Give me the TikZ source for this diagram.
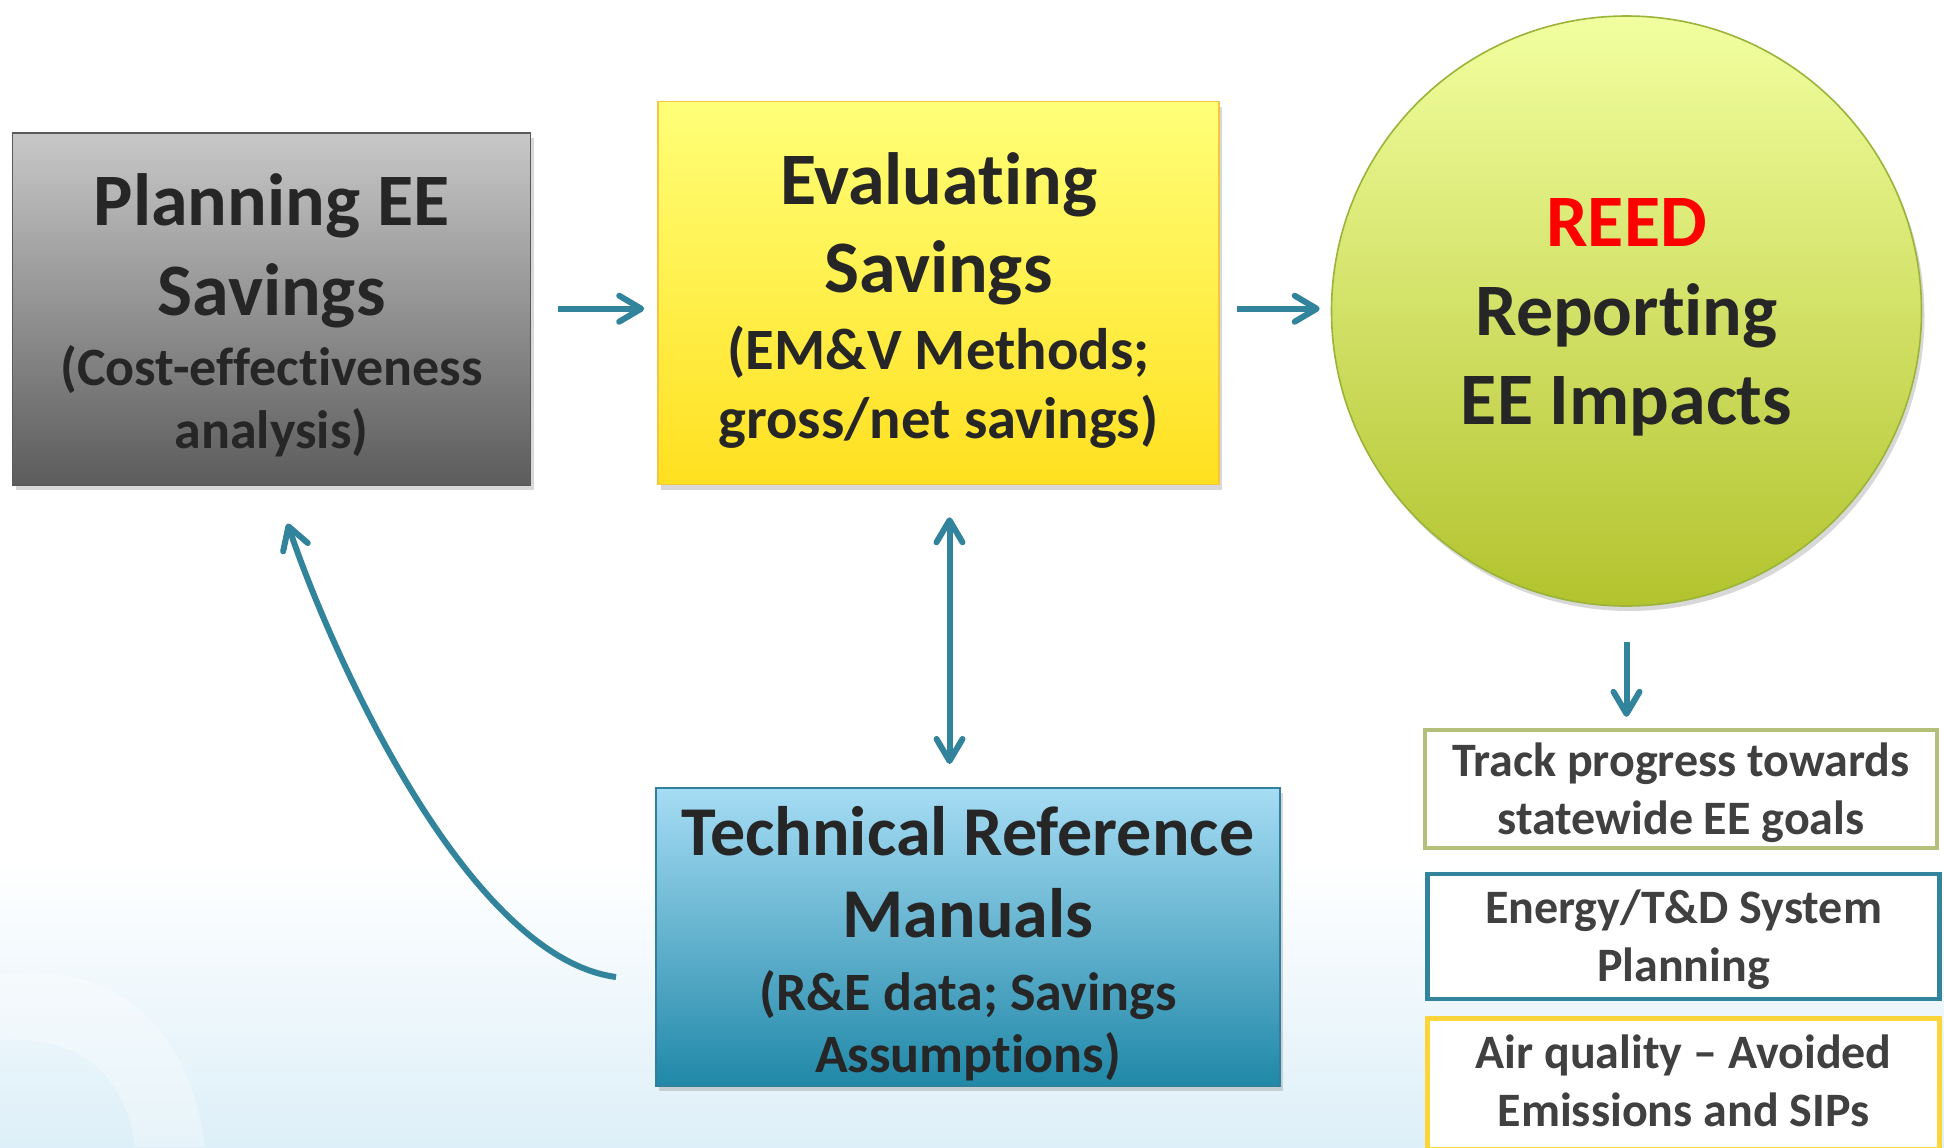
\documentclass[tikz,border=0pt]{standalone}
\usepackage{fontspec}
\setmainfont{Carlito}[Ligatures=NoCommon]
\usetikzlibrary{arrows.meta, shadows}

\definecolor{arrowteal}{HTML}{31849B}
\definecolor{plantop}{HTML}{C8C8C8}
\definecolor{planbot}{HTML}{5C5C5C}
\definecolor{planedge}{HTML}{5A5A5A}
\definecolor{evaltop}{HTML}{FFFF78}
\definecolor{evalbot}{HTML}{FFE020}
\definecolor{evaledge}{HTML}{F4C542}
\definecolor{reedtop}{HTML}{F2FFA0}
\definecolor{reedbot}{HTML}{B2C32E}
\definecolor{reededge}{HTML}{9AB43A}
\definecolor{techtop}{HTML}{A6DCF4}
\definecolor{techbot}{HTML}{2088A8}
\definecolor{techedge}{HTML}{2E809C}
\definecolor{goalgreen}{HTML}{B4C07A}
\definecolor{goalyellow}{HTML}{FDD43A}
\definecolor{textdark}{HTML}{262626}
\definecolor{textgoal}{HTML}{404040}
\definecolor{reedred}{HTML}{FF0000}
\definecolor{bgblue}{HTML}{DDEFF8}

\begin{document}
\begin{tikzpicture}[x=0.5pt, y=-0.5pt,
	>={Straight Barb[length=11pt, width=13pt, round]},
	arr/.style={draw=arrowteal, line width=3pt},
	box/.style={rectangle, draw, line width=0.8pt, inner xsep=6pt, inner ysep=0pt,
		align=flush center, text=textdark, font=\bfseries, text height=30pt,
		drop shadow={opacity=0.3, shadow xshift=1.5pt, shadow yshift=-2.5pt}},
	goal/.style={rectangle, draw, line width=2.2pt, fill=white, inner xsep=6pt, inner ysep=0pt,
		align=flush center, text=textgoal, text width=244pt, text height=20pt,
		font=\bfseries\fontsize{24}{29}\selectfont}
]
	% background
	\fill[white] (0,0) rectangle (1944,1147);
	\shade[top color=white, bottom color=bgblue] (0,860) rectangle (1944,1147);
	\fill[white, opacity=0.3] (0,975) .. controls (120,960) and (190,1030) .. (205,1147)
		-- (135,1147) .. controls (125,1070) and (75,1035) .. (0,1040) -- cycle;
	\useasboundingbox (0,0) rectangle (1944,1147);

	\node[box, top color=plantop, bottom color=planbot, draw=planedge,
		text width=247pt, minimum height=176pt, text depth=113.1pt] (plan) at (271.5,308.7)
		{{\fontsize{37}{45}\selectfont Planning EE\\Savings\par}\vskip3.5pt
		{\fontsize{27}{31.5}\selectfont (Cost-effectiveness\\analysis)\par}};
	\node[box, top color=evaltop, bottom color=evalbot, draw=evaledge,
		text width=268.5pt, minimum height=191.5pt, text depth=118.5pt] (eval) at (938.5,293)
		{{\fontsize{37}{44}\selectfont Evaluating\\Savings\par}\vskip3.8pt
		{\fontsize{29.3}{34.7}\selectfont (EM\&V Methods;\\gross/net savings)\par}};
	\node[circle, draw=reededge, line width=0.8pt, top color=reedtop, bottom color=reedbot,
		minimum size=295pt, inner sep=0pt, text width=200pt, text height=30pt, text depth=94.5pt,
		align=flush center, text=textdark, font=\bfseries\fontsize{37}{44.6}\selectfont,
		drop shadow={opacity=0.3, shadow xshift=1.5pt, shadow yshift=-2.5pt}] (reed) at (1626.5,311)
		{\textcolor{reedred}{REED}\\Reporting\\EE Impacts};
	\node[box, top color=techtop, bottom color=techbot, draw=techedge,
		text width=299.75pt, minimum height=148.75pt, text depth=111.5pt] (tech) at (968,937)
		{{\fontsize{35}{41}\selectfont Technical Reference\\Manuals\par}\vskip5.5pt
		{\fontsize{27}{31}\selectfont (R\&E data; Savings\\Assumptions)\par}};

	\node[goal, draw=goalgreen, minimum height=59pt, text depth=33pt] (track) at (1681,789)
		{Track progress towards\\statewide EE goals};
	\node[goal, draw=arrowteal, minimum height=62.5pt, text depth=33.5pt] (grid) at (1683.5,936.5)
		{Energy/T\&D System\\Planning};
	\node[goal, draw=goalyellow, minimum height=65.5pt, text depth=36pt] (air) at (1683.5,1084)
		{Air quality -- Avoided\\Emissions and SIPs};

	% connectors
	\draw[arr, ->, shorten <=13.5pt, shorten >=6.5pt] (plan.east) -- (plan.east -| eval.west);
	\draw[arr, ->, shorten <=8.5pt, shorten >=5.5pt] (plan.east -| eval.east) -- (plan.east -| reed.west);

	\coordinate (link) at ([xshift=5.5pt]eval.south);
	\draw[arr, <->, shorten <=16pt, shorten >=11.75pt] (link) -- (link |- tech.north);

	\draw[arr, ->, shorten <=17.5pt, shorten >=5.5pt] (reed.south) -- (reed.south |- track.north);

	\coordinate (loopstart) at (616,977);
	\coordinate (looptip) at ([xshift=8pt, yshift=-19pt]plan.south);
	\draw[arr, ->] (loopstart) .. controls (466,957) and (330,650) .. (looptip);
\end{tikzpicture}
\end{document}
